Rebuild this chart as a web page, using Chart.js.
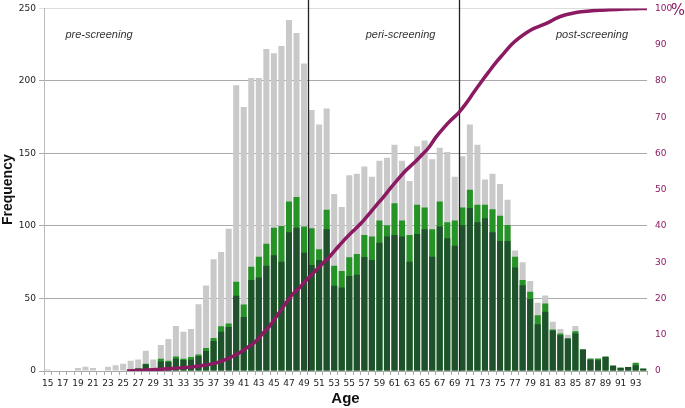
<!DOCTYPE html>
<html lang="en">

<head>
  <meta charset="UTF-8" />
  <title>Age distribution</title>
  <script src="https://cdn.jsdelivr.net/npm/chart.js"></script>
  <style>
    body { margin: 0; background: #fff; }
    #wrap { width: 685px; height: 408px; }
  </style>
</head>

<body>
  <div id="wrap"><canvas id="myChart" width="685" height="408"></canvas></div>
  <script>
    // ages on the x axis
    const ages = ["15", "16", "17", "18", "19", "20", "21", "22", "23", "24",
      "25", "26", "27", "28", "29", "30", "31", "32", "33", "34",
      "35", "36", "37", "38", "39", "40", "41", "42", "43", "44",
      "45", "46", "47", "48", "49", "50", "51", "52", "53", "54",
      "55", "56", "57", "58", "59", "60", "61", "62", "63", "64",
      "65", "66", "67", "68", "69", "70", "71", "72", "73", "74",
      "75", "76", "77", "78", "79", "80", "81", "82", "83", "84",
      "85", "86", "87", "88", "89", "90", "91", "92", "93", "94"];

    // grey bars (all)
    const greyVals = [1, 0, 0, 0, 2, 3, 2, 0, 3, 4,
      5, 7, 8, 14, 8, 18, 22, 31, 27, 29,
      46, 59, 77, 82, 98, 197, 182, 202, 202, 222,
      219, 224, 242, 233, 212, 180, 170, 181, 122, 113,
      135, 136, 141, 134, 145, 147, 156, 145, 131, 155,
      159, 146, 154, 151, 134, 148, 170, 156, 132, 136,
      129, 118, 83, 75, 62, 47, 52, 34, 29, 25,
      31, 15, 9, 9, 10, 4, 2, 3, 6, 2];

    // light green bars
    const greenVals = [0, 0, 0, 0, 0, 0, 0, 0, 0, 0,
      0, 0, 2, 5, 1.5, 8.5, 7, 10, 8.5, 9.7,
      11.3, 15.9, 22.8, 30.9, 32.7, 61.5, 45.9, 71.9, 78.8, 87.8,
      98.7, 100, 116.9, 119.9, 99.6, 98.4, 83.9, 111.1, 72.6, 68.9,
      78.4, 80.7, 93.8, 92.7, 103.7, 100.5, 115.7, 103.7, 93.8, 114.6,
      112.7, 97.7, 116.9, 102.6, 103.7, 112.7, 124.9, 114.6, 114.6, 111.6,
      107, 100.7, 78.8, 62.7, 54.6, 38.5, 46.6, 28.6, 25.8, 22.4,
      27.4, 14.8, 8.5, 8.5, 10, 3.7, 2.3, 2.8, 5.5, 1.6];

    // dark green bars
    const darkVals = [0, 0, 0, 0, 0, 0, 0, 0, 0, 0,
      0, 0, 1, 4.6, 1, 6.5, 6.2, 8.5, 7.6, 7.8,
      10.1, 13.8, 20.7, 27, 30.4, 51.9, 37.3, 62.7, 64.5, 72.6,
      79.8, 75.4, 95.7, 98.7, 81.6, 73.1, 76.5, 97.7, 58.8, 57.6,
      65.5, 66.4, 78.6, 76.5, 88.5, 92.7, 93.8, 92.7, 75.4, 94.5,
      97.7, 78.8, 99.6, 91.6, 86.4, 100.5, 112.3, 102.6, 105.3, 95.7,
      89.7, 89.7, 71.4, 59.2, 49.6, 32.3, 40.8, 28, 24.7, 22.4,
      25.8, 14.8, 7.8, 7.4, 9.7, 3.7, 2.3, 2.8, 3.9, 1.6];

    // cumulative % (right axis), read at the end of each age
    const cumAges = [25.5, 27.5, 29.5, 31.5, 33.5, 35.5, 37.5, 38.5, 39.5, 40.5,
      41.5, 42.5, 43.5, 44.5, 45.5, 46.5, 47.5, 48.5, 49.5, 50.5,
      51.5, 52.5, 53.5, 54.5, 55.5, 56.5, 57.5, 58.5, 59.5, 60.5,
      61.5, 62.5, 63.5, 64.5, 65.5, 66.5, 67.5, 68.5, 69.5, 70.5,
      71.5, 72.5, 73.5, 74.5, 75.5, 76.5, 77.5, 78.5, 79.5, 80.5,
      81.5, 82.5, 83.5, 84.5, 85.5, 86.5, 87.5, 88.5, 89.5, 90.5,
      91.5, 92.5, 93.5, 94.5];
    const cumPct = [0, 0.2, 0.4, 0.7, 1.0, 1.5, 2.3, 3.1, 4.0, 5.1,
      6.5, 8.0, 10.3, 12.6, 15.5, 18.5, 21.2, 23.2, 25.5, 27.6,
      29.7, 31.8, 34.2, 36.5, 38.6, 40.6, 43.0, 45.5, 47.9, 50.5,
      53.0, 55.3, 57.2, 59.3, 61.5, 64.5, 67.0, 69.2, 71.2, 73.8,
      76.8, 79.7, 82.5, 85.2, 87.6, 90.0, 91.8, 93.3, 94.5, 95.3,
      96.2, 97.3, 98.1, 98.6, 99.0, 99.2, 99.4, 99.5, 99.6, 99.7,
      99.8, 99.9, 99.95, 100];

    // screening period borders and labels
    const borderAges = [49.5, 69.5];
    const periodNames = ["pre-screening", "peri-screening", "post-screening"];
    const periodAges = [21.8, 61.8, 87.2];

    const purple = "#8b1a62";

    const cumPoints = cumAges.map((a, i) => ({ x: a, y: cumPct[i] }));

    // vertical lines + period text, drawn after the bars (before the % line)
    const periodPlugin = {
      id: "periods",
      afterDatasetDraw(chart, args) {
        if (args.index !== 1) return;
        const ctx = chart.ctx;
        const xs = chart.scales.x2;
        const ys = chart.scales.y;
        ctx.save();
        ctx.strokeStyle = "#222";
        ctx.lineWidth = 1.3;
        borderAges.forEach((a) => {
          const px = Math.round(xs.getPixelForValue(a)) + 0.5;
          ctx.beginPath();
          ctx.moveTo(px, 0);
          ctx.lineTo(px, ys.bottom);
          ctx.stroke();
        });
        ctx.fillStyle = "#333";
        ctx.font = "italic 11px 'Liberation Sans', Arial, sans-serif";
        ctx.textAlign = "center";
        ctx.textBaseline = "middle";
        periodNames.forEach((t, i) => {
          ctx.fillText(t, xs.getPixelForValue(periodAges[i]), ys.getPixelForValue(232));
        });
        ctx.restore();
      },
      afterDraw(chart) {
        const ctx = chart.ctx;
        const y2 = chart.scales.y2;
        ctx.save();
        ctx.fillStyle = purple;
        ctx.font = "15px 'DejaVu Sans', sans-serif";
        ctx.textAlign = "center";
        ctx.textBaseline = "middle";
        ctx.fillText("%", chart.width - 7, y2.getPixelForValue(100) + 3);
        ctx.restore();
      },
    };

    const tickFont = { family: "'DejaVu Sans', sans-serif", size: 9 };

    new Chart(document.getElementById("myChart"), {
      type: "bar",
      data: {
        labels: ages,
        datasets: [
          {
            type: "line",
            label: "cumulative %",
            data: cumPoints,
            xAxisID: "x2",
            yAxisID: "y2",
            borderColor: purple,
            borderWidth: 3.5,
            pointRadius: 0,
            cubicInterpolationMode: "monotone",
            order: 0,
          },
          {
            label: "dark",
            data: darkVals,
            backgroundColor: "#1e512c",
            grouped: false,
            barPercentage: 0.8,
            categoryPercentage: 1,
            order: 1,
          },
          {
            label: "green",
            data: greenVals,
            backgroundColor: "#259326",
            grouped: false,
            barPercentage: 0.8,
            categoryPercentage: 1,
            order: 2,
          },
          {
            label: "grey",
            data: greyVals,
            backgroundColor: "#c9c9c9",
            grouped: false,
            barPercentage: 0.8,
            categoryPercentage: 1,
            order: 3,
          },
        ],
      },
      options: {
        responsive: false,
        animation: false,
        layout: { padding: { top: 1, left: 0, right: 0, bottom: 0 } },
        plugins: {
          legend: { display: false },
          tooltip: { enabled: false },
        },
        scales: {
          x: {
            grid: { offset: true, drawOnChartArea: false, tickLength: 4, color: "#aaa" },
            border: { color: "#aaa" },
            ticks: {
              autoSkip: false,
              maxRotation: 0,
              padding: 3,
              font: tickFont,
              color: "#222",
              callback: function (v, i) {
                return i % 2 === 0 ? ages[i] : "";
              },
            },
            title: {
              display: true,
              text: "Age",
              font: { family: "'Liberation Sans', Arial, sans-serif", size: 15, weight: "bold" },
              color: "#111",
              padding: { top: 2, bottom: 0 },
            },
            afterFit: (s) => { s.height = 37; },
          },
          // hidden linear axis for the cumulative line and the period borders
          x2: {
            type: "linear",
            min: 14.5,
            max: 94.5,
            offset: false,
            ticks: { display: false },
            grid: { display: false, drawTicks: false, offset: false },
            border: { display: false },
            afterFit: (s) => { s.height = 0; },
          },
          y: {
            min: 0,
            max: 250,
            ticks: { stepSize: 50, font: tickFont, color: "#222", padding: 3 },
            grid: {
              color: (c) => (c.tick && c.tick.value === 250 ? "#ddd" : "#aaa"),
              drawTicks: true,
              tickLength: 5,
            },
            border: { color: "#bbb" },
            title: {
              display: true,
              text: "Frequency",
              font: { family: "'Liberation Sans', Arial, sans-serif", size: 14, weight: "bold" },
              color: "#111",
              padding: { top: 0, bottom: 0 },
            },
            afterFit: (s) => { s.width = 44; },
          },
          y2: {
            position: "right",
            min: 0,
            max: 100,
            ticks: { stepSize: 10, font: tickFont, color: purple, padding: 0 },
            grid: { display: false },
            border: { display: false },
            afterFit: (s) => { s.width = 38; },
          },
        },
      },
      plugins: [periodPlugin],
    });
  </script>
</body>

</html>
